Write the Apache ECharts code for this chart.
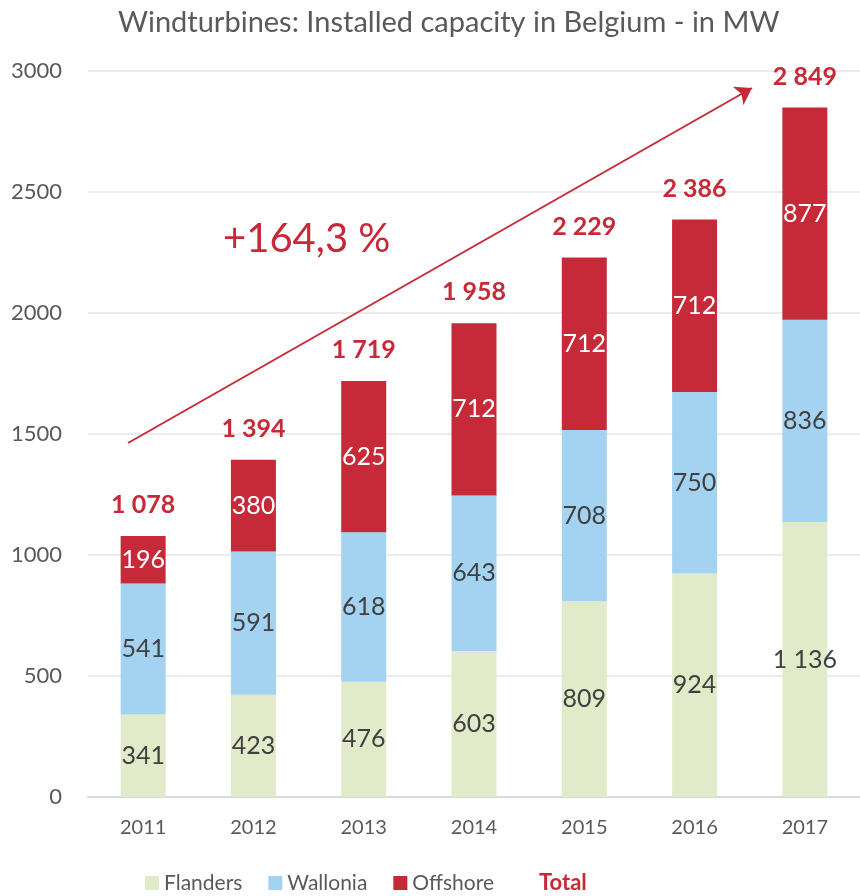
<!DOCTYPE html>
<html lang="en">
<head>
    <meta charset="UTF-8">
    <title>Windturbines</title>
    <script src="https://cdn.jsdelivr.net/npm/echarts@6/dist/echarts.min.js"></script>
    <style>
        body { margin: 0; }
        #app { width: 860px; height: 896px; }
    </style>
</head>
<body>
    <div id="app"></div>
    <script>
        const years = ['2011', '2012', '2013', '2014', '2015', '2016', '2017']
        const flanders = [341, 423, 476, 603, 809, 924, 1136]
        const wallonia = [541, 591, 618, 643, 708, 750, 836]
        const offshore = [196, 380, 625, 712, 712, 712, 877]
        const totals = [1078, 1394, 1719, 1958, 2229, 2386, 2849]

        const font = 'Lato'
        const red = '#c62a38'
        const fmt = v => String(v).replace(/\B(?=(\d{3})+(?!\d))/g, ' ')

        let mCharts = echarts.init(document.getElementById('app'))

        function barSeries(name, data, color, textColor) {
            return {
                name: name,
                type: 'bar',
                stack: 'cap',
                data: data,
                barWidth: 45,
                itemStyle: { color: color },
                label: {
                    show: true,
                    position: 'inside',
                    color: textColor,
                    fontFamily: font,
                    fontSize: 25,
                    formatter: p => fmt(p.value)
                }
            }
        }

        let option = {
            animation: false,
            textStyle: { fontFamily: font },
            title: {
                text: 'Windturbines: Installed capacity in Belgium - in MW',
                left: 113,
                top: 3,
                textStyle: { fontFamily: font, fontSize: 29, fontWeight: 'normal', color: '#595959' }
            },
            grid: { left: 88, right: -8, top: 71, bottom: 99 },
            legend: {
                top: 867,
                left: 140,
                itemWidth: 14,
                itemHeight: 14,
                itemGap: 26,
                textStyle: { fontFamily: font, fontSize: 21, color: '#595959' },
                data: [
                    { name: 'Flanders', icon: 'rect' },
                    { name: 'Wallonia', icon: 'rect' },
                    { name: 'Offshore', icon: 'rect' },
                    { name: 'Total', icon: 'none', textStyle: { color: red, fontWeight: 'bold', fontSize: 22 } }
                ]
            },
            xAxis: {
                type: 'category',
                data: years,
                axisTick: { show: false },
                axisLine: { lineStyle: { color: '#d9d9d9', width: 2 } },
                axisLabel: { color: '#595959', fontSize: 20, margin: 21, fontFamily: font }
            },
            yAxis: {
                type: 'value',
                min: 0,
                max: 3000,
                interval: 500,
                axisLabel: { color: '#595959', fontSize: 22, margin: 26, fontFamily: font, formatter: v => String(v) },
                splitLine: { lineStyle: { color: '#ececec', width: 2 } }
            },
            graphic: [{
                type: 'text',
                left: 223,
                top: 219,
                style: { text: '+164,3 %', fill: red, fontSize: 40, fontFamily: font }
            }],
            series: [
                barSeries('Flanders', flanders, '#e2ebc9', '#404040'),
                barSeries('Wallonia', wallonia, '#a4d3f2', '#404040'),
                Object.assign(barSeries('Offshore', offshore, red, '#ffffff'), {
                    markLine: {
                        silent: true,
                        symbol: ['none', 'arrow'],
                        symbolSize: 16,
                        label: { show: false },
                        lineStyle: { color: red, width: 2, type: 'solid' },
                        data: [[{ x: 128, y: 443 }, { x: 752, y: 88 }]]
                    }
                }),
                {
                    name: 'Total',
                    type: 'scatter',
                    data: totals,
                    symbolSize: 1,
                    itemStyle: { color: 'rgba(0,0,0,0)', opacity: 1 },
                    label: {
                        show: true,
                        position: 'top',
                        distance: 18,
                        color: red,
                        fontWeight: 'bold',
                        fontSize: 25,
                        fontFamily: font,
                        formatter: p => fmt(p.value)
                    }
                }
            ]
        }
        mCharts.setOption(option)
    </script>
</body>
</html>
